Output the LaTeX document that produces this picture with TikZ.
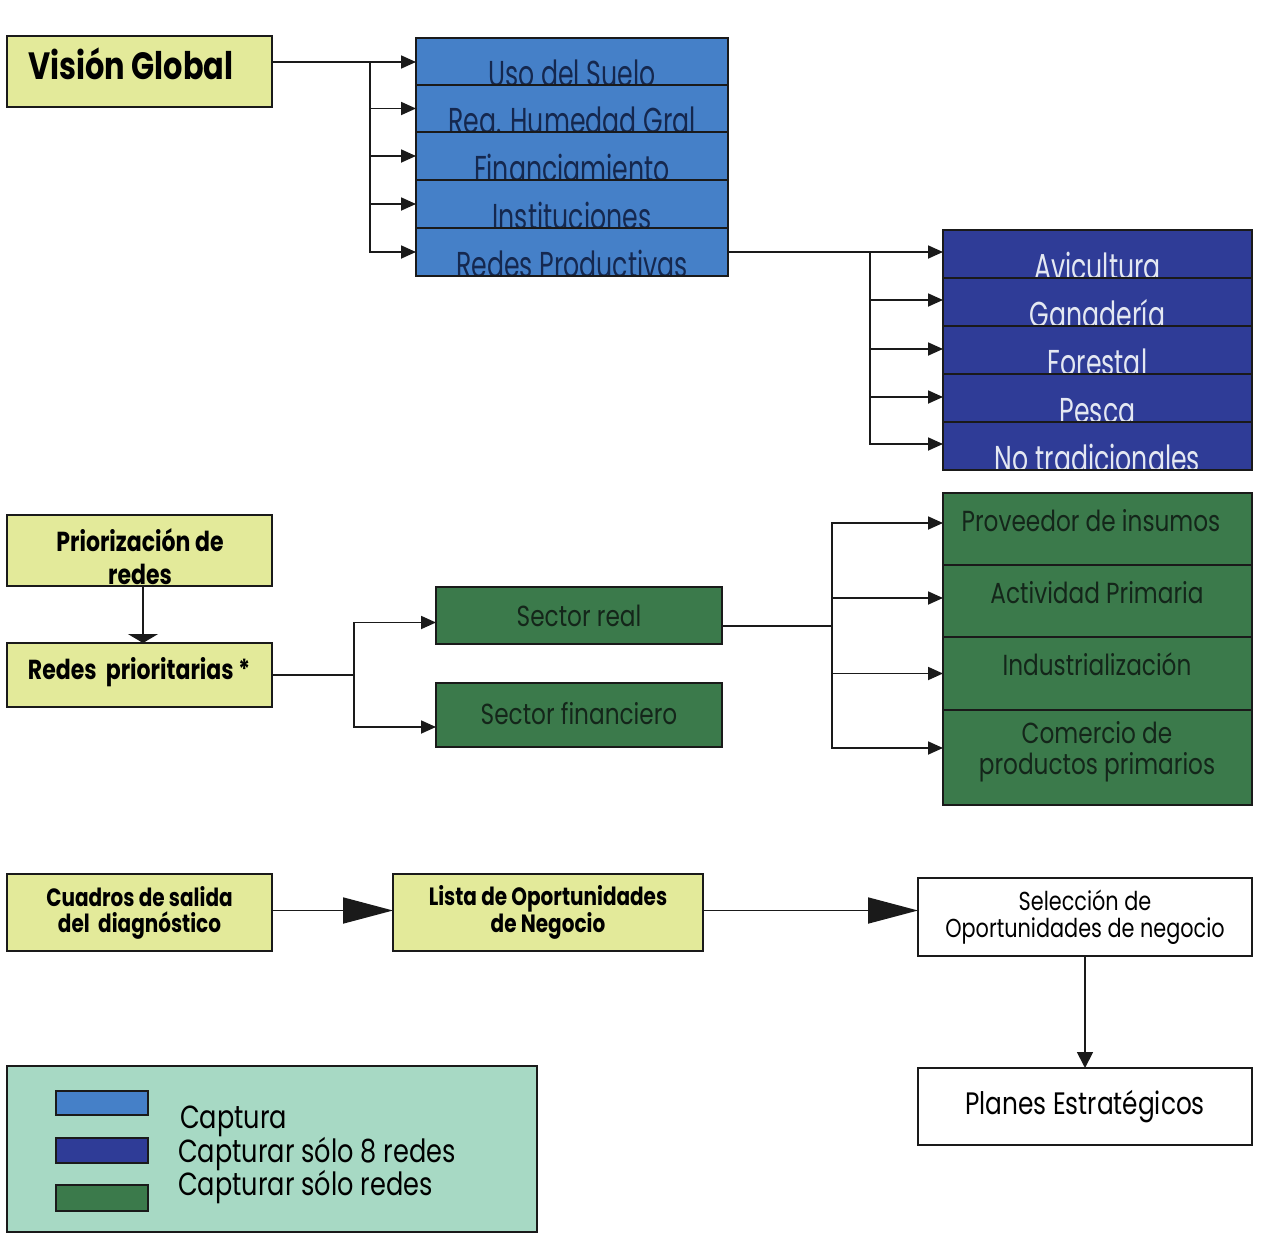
\documentclass[tikz,border=0pt]{standalone}
\usepackage{fontspec}
\setmainfont{Poppins}[FakeStretch=0.8]
\newfontfamily\rowfont{Poppins}[FakeStretch=0.7]
\usetikzlibrary{arrows.meta}

\definecolor{yel}{HTML}{E3EA9A}
\definecolor{blu}{HTML}{4580C8}
\definecolor{dblu}{HTML}{2F3C97}
\definecolor{grn}{HTML}{3B7A4B}
\definecolor{mint}{HTML}{A7D9C4}
\definecolor{edge}{HTML}{1A1A1A}
\definecolor{navytxt}{HTML}{15284F}
\definecolor{palewhite}{HTML}{E4E8F2}
\definecolor{greentxt}{HTML}{14261A}

\tikzset{
  frame/.style={rectangle, draw=edge, line width=2.6pt, inner sep=0pt, outer sep=0pt, align=center},
  ybox/.style={frame, fill=yel, font=\bfseries},
  wbox/.style={frame, fill=white},
  bluerow/.style={frame, fill=blu, minimum width=312pt},
  navyrow/.style={frame, fill=dblu, minimum width=309pt},
  greenrow/.style={frame, fill=grn, minimum width=309pt},
  greenbox/.style={frame, fill=grn, minimum width=286pt, text=greentxt},
  greentext/.style={anchor=center, text=greentxt, inner sep=0pt, align=center, font=\fontsize{29}{31}\selectfont},
  conn/.style={draw=edge, line width=1.8pt, -{Triangle[length=15pt,width=13pt]}},
  flatconn/.style={draw=edge, line width=1.8pt, -{Triangle[length=9pt,width=30pt]}},
  downconn/.style={draw=edge, line width=1.8pt, -{Triangle[length=16pt,width=16pt]}},
  link/.style={draw=edge, line width=1.8pt},
  bigconn/.style={draw=edge, line width=1.8pt, -{Triangle[length=50pt,width=26pt]}},
  rowtxt/.style={anchor=base, inner sep=0pt},
  legtxt/.style={anchor=base west, inner sep=0pt, font=\fontsize{32}{34}\selectfont},
}

% text set low in a row, cut off by the row's inner edge
\newcommand\lowtext[4]{%
  \begin{scope}
    \clip ([xshift=1.3pt,yshift=1.3pt]#1.south west) rectangle ([xshift=-1.3pt,yshift=-1.3pt]#1.north east);
    \node[rowtxt, text=#3, font=\rowfont\fontsize{36}{38}\selectfont] (#4) at ([yshift=-1.5pt]#1.south) {#2};
  \end{scope}%
  \draw[line width=2.6pt, draw=edge] (#1.south west) rectangle (#1.north east);}

\begin{document}
\begin{tikzpicture}[x=1pt,y=-1pt]
\useasboundingbox[fill=white] (0,0) rectangle (1262,1234);

% ---------- global view ----------
\node[ybox, minimum width=265pt, minimum height=71pt] (vg) at (139.5,71.5) {};
\node[anchor=base, inner sep=0pt, font=\bfseries\fontsize{38}{40}\selectfont] (tvg) at (131,79) {Visión Global};

\node[bluerow, minimum height=47pt] (u1) at (572,61.5) {};
\node[bluerow, minimum height=47pt] (u2) at (572,108.5) {};
\node[bluerow, minimum height=48pt] (u3) at (572,156) {};
\node[bluerow, minimum height=48pt] (u4) at (572,204) {};
\node[bluerow, minimum height=48pt] (u5) at (572,252) {};
\lowtext{u1}{Uso del Suelo}{navytxt}{tu1}
\lowtext{u2}{Reg. Humedad Gral}{navytxt}{tu2}
\lowtext{u3}{Financiamiento}{navytxt}{tu3}
\lowtext{u4}{Instituciones}{navytxt}{tu4}
\lowtext{u5}{Redes Productivas}{navytxt}{tu5}

\coordinate (j1) at (370,62);
\draw[conn] (vg.east |- j1) -- (u1.west |- j1);
\draw[conn] (j1) |- (u2.west);
\draw[conn] (j1) |- (u3.west);
\draw[conn] (j1) |- (u4.west);
\draw[conn] (j1) |- (u5.west);

% ---------- productive networks ----------
\node[navyrow, minimum height=48pt] (d1) at (1097.5,254) {};
\node[navyrow, minimum height=48pt] (d2) at (1097.5,302) {};
\node[navyrow, minimum height=48pt] (d3) at (1097.5,350) {};
\node[navyrow, minimum height=48pt] (d4) at (1097.5,398) {};
\node[navyrow, minimum height=48pt] (d5) at (1097.5,446) {};
\lowtext{d1}{Avicultura}{palewhite}{td1}
\lowtext{d2}{Ganadería}{palewhite}{td2}
\lowtext{d3}{Forestal}{palewhite}{td3}
\lowtext{d4}{Pesca}{palewhite}{td4}
\lowtext{d5}{No tradicionales}{palewhite}{td5}

\coordinate (j2) at (870,252);
\draw[conn] (u5.east) -- (u5.east -| d1.west);
\draw[conn] (j2) |- ([yshift=2pt]d2.west);
\draw[conn] (j2) |- ([yshift=1pt]d3.west);
\draw[conn] (j2) |- ([yshift=1pt]d4.west);
\draw[conn] (j2) |- ([yshift=2pt]d5.west);

% ---------- prioritisation ----------
\node[ybox, minimum width=265pt, minimum height=71pt] (pz) at (139.5,550.5) {};
\begin{scope}
\clip ([xshift=1.3pt,yshift=1.3pt]pz.south west) rectangle ([xshift=-1.3pt,yshift=-1.3pt]pz.north east);
\node[anchor=base, inner sep=0pt, font=\bfseries\fontsize{27.5}{29}\selectfont] (tpz1) at (140,551) {Priorización de};
\node[anchor=base, inner sep=0pt, font=\bfseries\fontsize{27.5}{29}\selectfont] (tpz2) at (140,584) {redes};
\end{scope}
\draw[line width=2.6pt, draw=edge] (pz.south west) rectangle (pz.north east);

\node[ybox, minimum width=265pt, minimum height=64pt] (rpr) at (139.5,675) {};
\node[anchor=base, inner sep=0pt, font=\bfseries\fontsize{27.5}{29}\selectfont] (trpr) at (139,679) {Redes\ \ prioritarias *};
\draw[flatconn] (pz.south -| 143,0) -- (rpr.north -| 143,0);

\node[greenbox, minimum height=57pt, font=\fontsize{29}{31}\selectfont] (sr) at (579,615.5) {Sector real};
\node[greenbox, minimum height=64pt, font=\fontsize{29}{31}\selectfont] (sf) at (579,715) {\raisebox{3pt}{Sector financiero}};

\coordinate (j3) at (354,675);
\draw[link] (rpr.east |- j3) -- (j3);
\draw[conn] (j3) |- ([yshift=-7pt]sr.west);
\draw[conn] (j3) |- ([yshift=-12pt]sf.west);

% ---------- value chain ----------
\node[greenrow, minimum height=72pt] (g1) at (1097.5,529) {};
\node[greenrow, minimum height=72pt] (g2) at (1097.5,601) {};
\node[greenrow, minimum height=73pt] (g3) at (1097.5,673.5) {};
\node[greenrow, minimum height=95pt] (g4) at (1097.5,757.5) {};
\node[greentext] (tg1) at (1091,521) {Proveedor de insumos};
\node[greentext] (tg2) at (1097,593) {Actividad Primaria};
\node[greentext] (tg3) at (1097,664) {Industrialización};
\node[greentext] (tg4) at (1097,752) {Comercio de\\productos primarios};

\coordinate (j4) at (832,626);
\draw[link] (sr.east |- j4) -- (j4);
\draw[conn] (j4) |- ([yshift=6pt]g1.west);
\draw[conn] (j4) |- ([yshift=3pt]g2.west);
\draw[conn] (j4) |- (g3.west);
\draw[conn] (j4) |- ([yshift=9.5pt]g4.west);

% ---------- business opportunities ----------
\node[ybox, minimum width=265pt, minimum height=77pt, font=\bfseries\fontsize{25}{26}\selectfont] (cu) at (139.5,912.5) {Cuadros de salida\\del\ \ diagnóstico};
\node[ybox, minimum width=310pt, minimum height=77pt, font=\bfseries\fontsize{25}{26}\selectfont] (li) at (548,912.5) {Lista de Oportunidades\\de Negocio};
\node[wbox, minimum width=334pt, minimum height=78pt, font=\fontsize{26}{27}\selectfont] (se) at (1085,917) {Selección de\\Oportunidades de negocio};
\node[wbox, minimum width=334pt, minimum height=77pt, font=\fontsize{31}{33}\selectfont] (pl) at (1085,1106.5) {\raisebox{9pt}{Planes Estratégicos}};

\draw[bigconn] ([yshift=2pt]cu.east) -- ([yshift=2pt]li.west);
\draw[bigconn] ([yshift=2pt]li.east) -- ([yshift=2pt]li.east -| se.west);
\draw[downconn] (se.south) -- (pl.north);

% ---------- legend ----------
\node[frame, fill=mint, minimum width=530pt, minimum height=166pt] (lg) at (272,1149) {};
\node[rectangle, draw=edge, line width=1.2pt, fill=blu, minimum width=92pt, minimum height=24pt, inner sep=0pt] (k1) at (102,1103) {};
\node[rectangle, draw=edge, line width=1.2pt, fill=dblu, minimum width=92pt, minimum height=25pt, inner sep=0pt] (k2) at (102,1150.5) {};
\node[rectangle, draw=edge, line width=2pt, fill=grn, minimum width=92pt, minimum height=26pt, inner sep=0pt] (k3) at (102,1198) {};
\node[legtxt] (l1) at (180,1128) {Captura};
\node[legtxt] (l2) at (178,1162) {Capturar sólo 8 redes};
\node[legtxt] (l3) at (178,1195) {Capturar sólo redes};
\end{tikzpicture}
\end{document}
